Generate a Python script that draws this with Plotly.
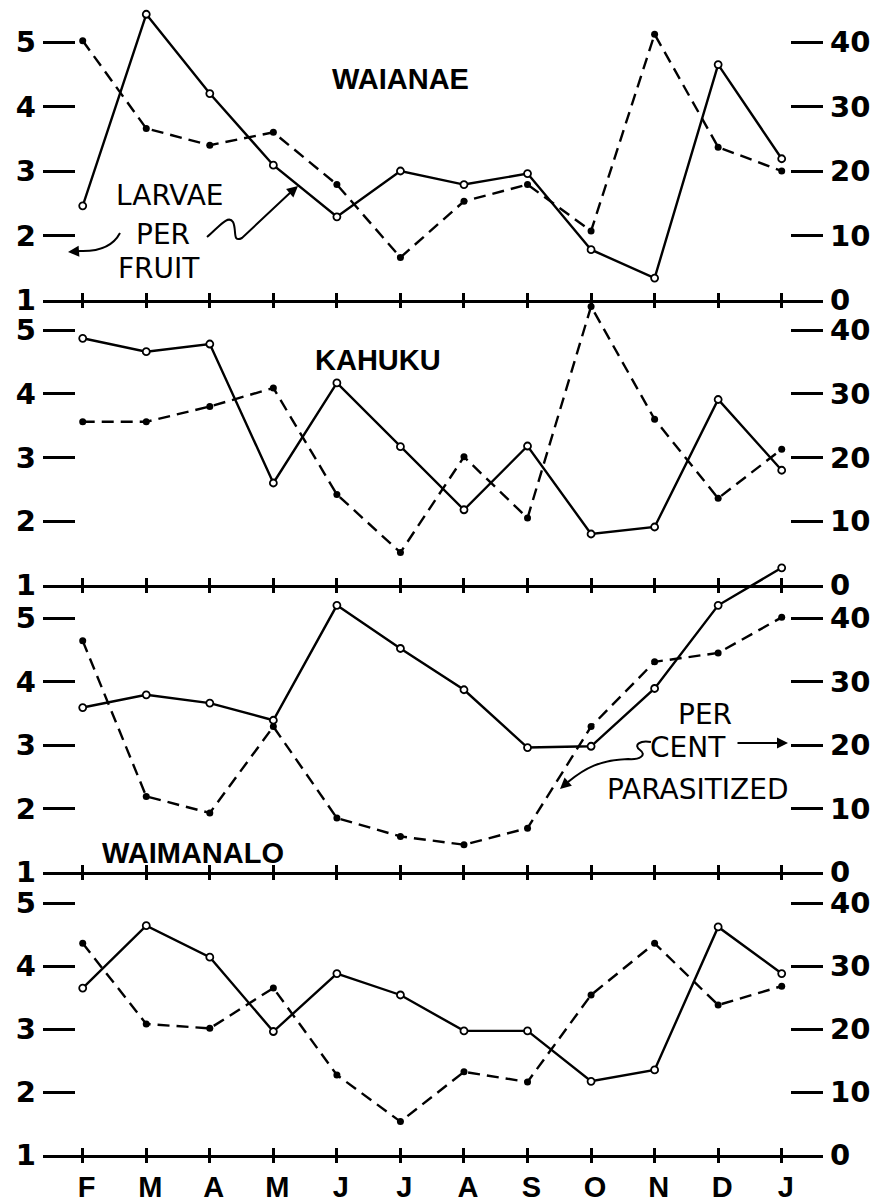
import plotly.graph_objects as go

months = ["F", "M", "A", "M", "J", "J", "A", "S", "O", "N", "D", "J"]
station_names = ["WAIANAE", "KAHUKU", "WAIMANALO", ""]

larvae_waianae = [2.46, 5.43, 4.20, 3.09, 2.29, 3.00, 2.79, 2.96, 1.78, 1.34, 4.65, 3.19]
parasit_waianae = [40.2, 26.6, 24.0, 26.0, 17.9, 6.6, 15.3, 17.9, 10.7, 41.2, 23.7, 20.0]
larvae_kahuku = [4.87, 4.66, 4.78, 2.60, 4.17, 3.17, 2.18, 3.18, 1.80, 1.91, 3.91, 2.80]
parasit_kahuku = [25.6, 25.6, 28.0, 30.9, 14.2, 5.1, 20.1, 10.5, 43.7, 26.0, 13.6, 21.3]
larvae_panel3 = [3.59, 3.79, 3.66, 3.39, 5.20, 4.52, 3.87, 2.96, 2.98, 3.89, 5.20, 5.79]
parasit_panel3 = [36.4, 11.9, 9.3, 22.9, 8.5, 5.6, 4.3, 6.9, 22.9, 33.1, 34.5, 40.1]
larvae_panel4 = [3.65, 4.64, 4.14, 2.96, 3.88, 3.54, 2.97, 2.97, 2.17, 2.35, 4.62, 3.88]
parasit_panel4 = [33.6, 20.8, 20.1, 26.5, 12.7, 5.3, 13.2, 11.6, 25.4, 33.6, 23.8, 26.8]

left_ticks = [1, 2, 3, 4, 5]
right_ticks = [0, 10, 20, 30, 40]

larvae = [larvae_waianae, larvae_kahuku, larvae_panel3, larvae_panel4]
parasit = [parasit_waianae, parasit_kahuku, parasit_panel3, parasit_panel4]

W, H = 886, 1204
def px(x):
    return x / W
def py(y):
    return 1 - y / H

X0, X1 = 43, 823
baselines = [300, 585, 872, 1155]
scales = [64.5, 63.75, 63.5, 63.0]
idx = list(range(len(months)))

NUM_FONT = dict(family="DejaVu Sans", size=29, color="black", weight="bold")
TITLE_FONT = dict(family="Liberation Sans", size=29, color="black", weight="bold")
LABEL_FONT = dict(family="DejaVu Sans", size=28, color="black")

fig = go.Figure()
layout = {}
for i in range(4):
    n = i + 1
    xs = "" if n == 1 else str(n)
    yl = 2 * n - 1
    yr = 2 * n
    yls = "" if yl == 1 else str(yl)
    base = baselines[i]
    scale = scales[i]
    top_px = max(base - 5 * scale, 0)
    ymax = 1 + (base - top_px) / scale

    fig.add_trace(go.Scatter(
        x=idx, y=parasit[i], xaxis="x" + xs, yaxis="y" + str(yr),
        mode="lines+markers", showlegend=False, hoverinfo="skip",
        line=dict(color="black", width=2.4, dash="12px,7px"),
        marker=dict(symbol="circle", size=7, color="black")))
    fig.add_trace(go.Scatter(
        x=idx, y=larvae[i], xaxis="x" + xs, yaxis="y" + yls,
        mode="lines+markers", showlegend=False, hoverinfo="skip",
        line=dict(color="black", width=2.4),
        marker=dict(symbol="circle", size=7, color="white",
                    line=dict(color="black", width=1.8))))
    # placeholder trace for the overlay x axis (downward tick marks)
    fig.add_trace(go.Scatter(
        x=[None], y=[None], xaxis="x" + str(4 + n), yaxis="y" + yls,
        mode="lines", showlegend=False, hoverinfo="skip"))

    layout["xaxis" + xs] = dict(
        domain=[px(X0), px(X1)], range=[-0.625, 11.65], anchor="y" + yls,
        showline=True, linewidth=3, linecolor="black",
        ticks="inside", ticklen=7, tickwidth=3, tickcolor="black",
        tickvals=idx, ticktext=months, showticklabels=(n == 4),
        tickfont=TITLE_FONT, ticklabelstandoff=4, ticklabelshift=4,
        showgrid=False, zeroline=False, fixedrange=True, automargin=False)
    layout["xaxis" + str(4 + n)] = dict(
        overlaying="x" + xs, anchor="y" + yls, side="bottom",
        range=[-0.625, 11.65], showline=False,
        ticks="outside", ticklen=7, tickwidth=3, tickcolor="black",
        tickvals=idx, showticklabels=False,
        showgrid=False, zeroline=False, fixedrange=True, automargin=False)
    layout["yaxis" + yls] = dict(
        domain=[py(base), py(top_px)], range=[1, ymax], anchor="x" + xs,
        tickvals=left_ticks, ticks="inside", ticklen=32, tickwidth=3,
        tickcolor="black", showline=False, showgrid=False, zeroline=False,
        tickfont=NUM_FONT, ticklabelstandoff=6, fixedrange=True, automargin=False)
    layout["yaxis" + str(yr)] = dict(
        overlaying="y" + yls, side="right", anchor="x" + xs,
        range=[0, (ymax - 1) * 10],
        tickvals=right_ticks, ticks="inside", ticklen=32, tickwidth=3,
        tickcolor="black", showline=False, showgrid=False, zeroline=False,
        tickfont=NUM_FONT, ticklabelstandoff=6, fixedrange=True, automargin=False)

annotations = []
def text(t, x, y, font):
    annotations.append(dict(text=t, x=px(x), y=py(y), xref="paper", yref="paper",
                            showarrow=False, font=font, xanchor="center", yanchor="middle"))

text(station_names[0], 400, 79, TITLE_FONT)
text(station_names[1], 378, 360, TITLE_FONT)
text(station_names[2], 193, 853, TITLE_FONT)
text("LARVAE", 170, 195, LABEL_FONT)
text("PER", 163, 234, LABEL_FONT)
text("FRUIT", 159, 268, LABEL_FONT)
text("PER", 705, 714, LABEL_FONT)
text("CENT", 688, 747, LABEL_FONT)
text("PARASITIZED", 698, 789, LABEL_FONT)

def arrow(tipx, tipy, ax, ay):
    annotations.append(dict(text="", x=px(tipx), y=py(tipy), xref="paper", yref="paper",
                            showarrow=True, arrowhead=2, arrowsize=1.1, arrowwidth=2,
                            arrowcolor="black", ax=ax, ay=ay))

arrow(68, 252, 14, -1)
arrow(298, 186, -8, 7)
arrow(788, 743, -52, 0)
arrow(560, 789, 9, -8)

def path(points_cmd):
    out = []
    for tok in points_cmd:
        if isinstance(tok, str):
            out.append(tok)
        else:
            out.append("%.5f,%.5f" % (px(tok[0]), py(tok[1])))
    return " ".join(out)

shapes = [
    dict(type="path", xref="paper", yref="paper", line=dict(color="black", width=2),
         path=path(["M", (120, 233), "Q", (110, 252), (80, 251)])),
    dict(type="path", xref="paper", yref="paper", line=dict(color="black", width=2),
         path=path(["M", (207, 237), "C", (218, 228), (228, 214), (233, 222),
                    "C", (237, 230), (232, 243), (242, 238), "L", (292, 191)])),
    dict(type="path", xref="paper", yref="paper", line=dict(color="black", width=2),
         path=path(["M", (651, 742), "C", (640, 740), (633, 745), (640, 750),
                    "C", (647, 755), (640, 760), (628, 759),
                    "C", (600, 760), (585, 768), (568, 782)])),
]

fig.update_layout(
    width=W, height=H, margin=dict(l=0, r=0, t=0, b=0, autoexpand=False),
    paper_bgcolor="white", plot_bgcolor="rgba(0,0,0,0)", showlegend=False,
    annotations=annotations, shapes=shapes, **layout)

post = (
    "document.documentElement.style.margin='0';"
    "document.body.style.margin='0';"
)

fig.write_html("out.html", config={"displayModeBar": False}, post_script=post)
